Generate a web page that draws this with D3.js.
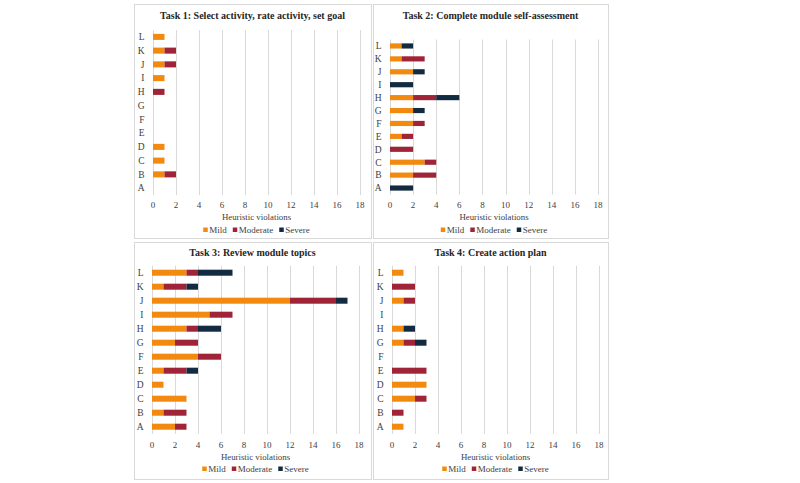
<!DOCTYPE html>
<html><head><meta charset="utf-8">
<script src="https://cdn.jsdelivr.net/npm/d3@7"></script>
<style>
html,body{margin:0;padding:0;background:#fff;}
svg text{font-family:"Liberation Serif","DejaVu Serif","Times New Roman",serif;fill:#404040;}
</style></head>
<body>
<svg id="chart" width="800" height="483"></svg>
<script>
const categories = ["A","B","C","D","E","F","G","H","I","J","K","L"];
const seriesNames = ["Mild","Moderate","Severe"];
const seriesColors = ["#f28a10","#a02438","#132b40"];
const xTicks = [0,2,4,6,8,10,12,14,16,18];
const titles = [
  "Task 1: Select activity, rate activity, set goal",
  "Task 2: Complete module self-assessment",
  "Task 3: Review module topics",
  "Task 4: Create action plan"
];
const axisTitle = "Heuristic violations";

// values per category A..L
const task1Mild     = [0,1,1,1,0,0,0,0,1,1,1,1];
const task1Moderate = [0,1,0,0,0,0,0,1,0,1,1,0];
const task1Severe   = [0,0,0,0,0,0,0,0,0,0,0,0];

const task2Mild     = [0,2,3,0,1,2,2,2,0,2,1,1];
const task2Moderate = [0,2,1,2,1,1,0,2,0,0,2,0];
const task2Severe   = [2,0,0,0,0,0,1,2,2,1,0,1];

const task3Mild     = [2,1,3,1,1,4,2,3,5,12,1,3];
const task3Moderate = [1,2,0,0,2,2,2,1,2,4,2,1];
const task3Severe   = [0,0,0,0,1,0,0,2,0,1,1,3];

const task4Mild     = [1,0,2,3,0,0,1,1,0,1,0,1];
const task4Moderate = [0,1,1,0,3,0,1,0,0,1,2,0];
const task4Severe   = [0,0,0,0,0,0,1,1,0,0,0,0];

const taskData = [
  [task1Mild,task1Moderate,task1Severe],
  [task2Mild,task2Moderate,task2Severe],
  [task3Mild,task3Moderate,task3Severe],
  [task4Mild,task4Moderate,task4Severe]
];

// layout of each panel
const panels = [
  {box:[134,4,371,238], x:[153,360], y:[30,195],   pad:0.56, titleY:18.5, tickY:207.5, axY:219.5, legY:233},
  {box:[373,4,608,238], x:[390,598], y:[39.5,194.5], pad:0.6, titleY:18.5, tickY:207.5, axY:220, legY:233},
  {box:[134,242,371,479], x:[152,359], y:[265.7,433.7], pad:0.57, titleY:256, tickY:447.5, axY:459.5, legY:472},
  {box:[373,242,608,479], x:[392,599], y:[265.7,433.7], pad:0.57, titleY:256, tickY:447.5, axY:459.5, legY:472}
];

const svg = d3.select("#chart");

panels.forEach((p, i) => {
  const g = svg.append("g");
  g.append("rect")
    .attr("x", p.box[0]+0.5).attr("y", p.box[1]+0.5)
    .attr("width", p.box[2]-p.box[0]).attr("height", p.box[3]-p.box[1])
    .attr("fill","#fff").attr("stroke","#d9d9d9").attr("stroke-width",1);

  const x = d3.scaleLinear().domain([0,18]).range(p.x);
  const y = d3.scaleBand().domain(categories.slice().reverse()).range(p.y).paddingInner(p.pad).paddingOuter(p.pad/2);

  // gridlines
  g.selectAll("line.grid").data(xTicks).enter().append("line")
    .attr("x1", d => Math.round(x(d))+0.5).attr("x2", d => Math.round(x(d))+0.5)
    .attr("y1", p.y[0]).attr("y2", p.y[1])
    .attr("stroke","#d9d9d9").attr("stroke-width",1);

  // stacked data
  const rows = categories.map((c, ci) => {
    const r = {cat:c};
    seriesNames.forEach((s, si) => r[s] = taskData[i][si][ci]);
    return r;
  });
  const stacked = d3.stack().keys(seriesNames)(rows);
  g.selectAll("g.series").data(stacked).enter().append("g")
    .attr("fill", (d, si) => seriesColors[si])
    .selectAll("rect").data(d => d).enter().append("rect")
    .attr("x", d => x(d[0]))
    .attr("width", d => x(d[1]) - x(d[0]))
    .attr("y", d => y(d.data.cat))
    .attr("height", y.bandwidth());

  // axes labels
  g.selectAll("text.cat").data(categories).enter().append("text")
    .attr("x", p.x[0]-8.5).attr("y", d => y(d) + y.bandwidth()/2)
    .attr("dy","0.35em").attr("text-anchor","end")
    .attr("font-size","9.5px").text(d => d);

  g.selectAll("text.tick").data(xTicks).enter().append("text")
    .attr("x", d => x(d)).attr("y", p.tickY)
    .attr("text-anchor","middle").attr("font-size","9px").text(d => d);

  const cx = (p.box[0]+p.box[2])/2;
  g.append("text").attr("x", (p.x[0]+p.x[1])/2).attr("y", p.axY)
    .attr("text-anchor","middle").attr("font-size","8.8px").text(axisTitle);

  g.append("text").attr("x", cx).attr("y", p.titleY)
    .attr("text-anchor","middle").attr("font-size","10px").attr("font-weight","bold")
    .style("fill","#262626").text(titles[i]);

  // legend
  const leg = g.append("g");
  let off = 0;
  seriesNames.forEach((s, si) => {
    leg.append("rect").attr("x", off).attr("y", -5.5).attr("width",4.5).attr("height",4.5)
      .attr("fill", seriesColors[si]);
    const t = leg.append("text").attr("x", off+6).attr("y", 0)
      .attr("font-size","9px").text(s);
    off += 6 + t.node().getComputedTextLength() + 6;
  });
  const lw = off - 6;
  leg.attr("transform", `translate(${(p.x[0]+p.x[1])/2 - lw/2},${p.legY})`);
});
</script>
</body></html>
